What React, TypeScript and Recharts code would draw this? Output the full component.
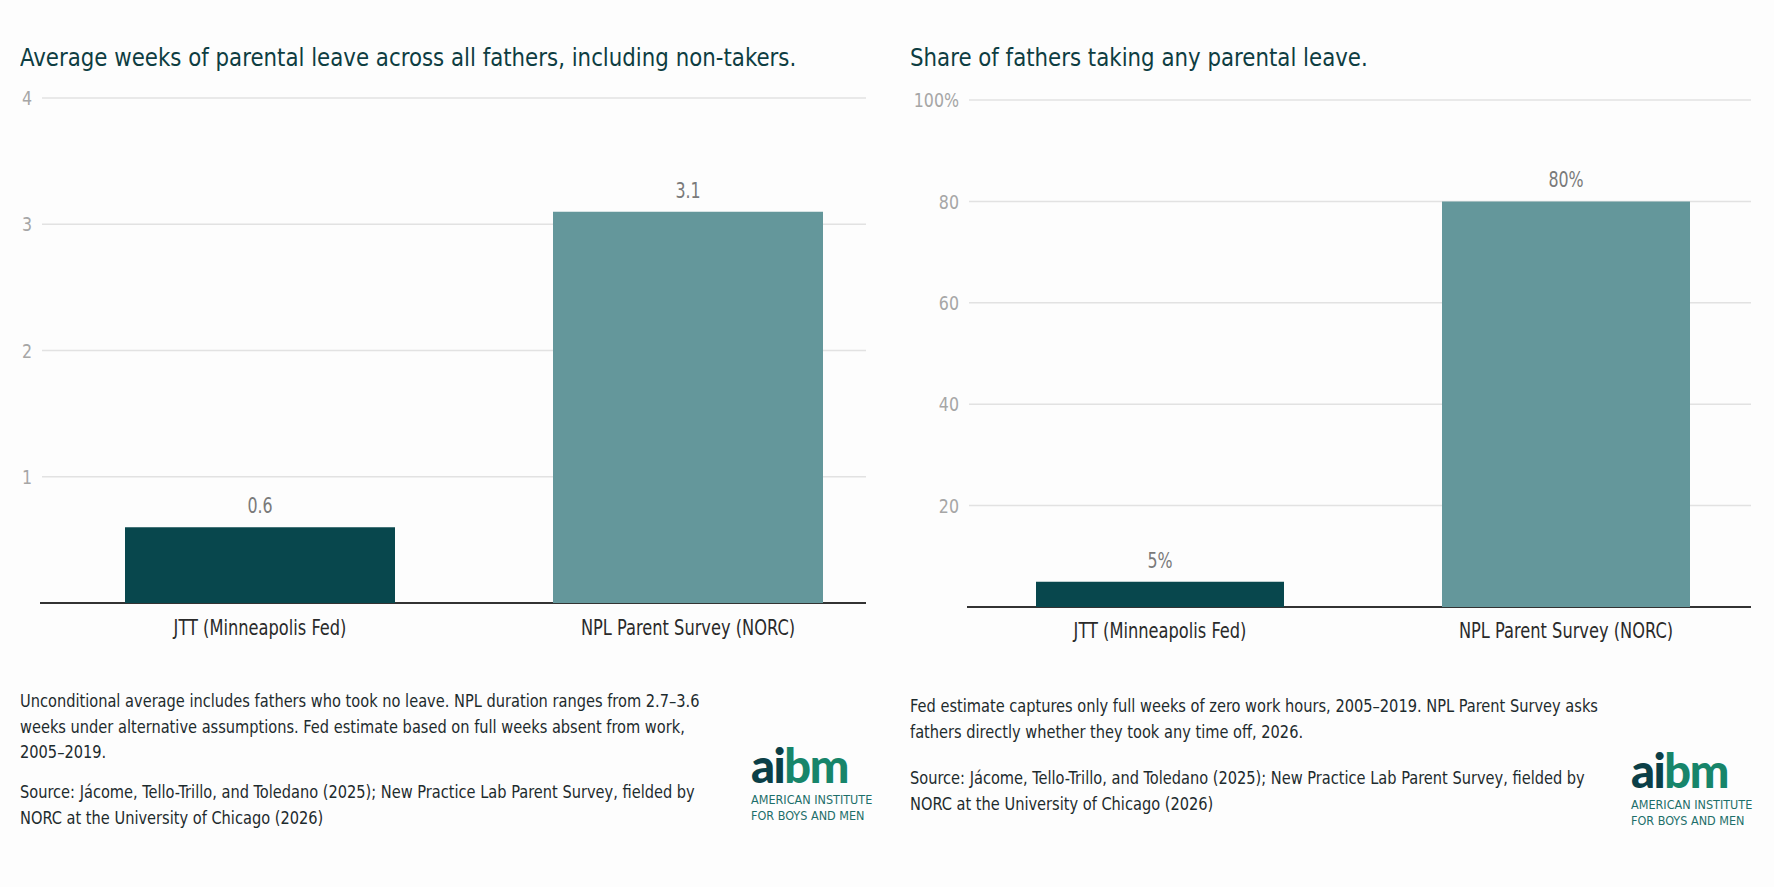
import { BarChart, Bar, XAxis, YAxis, CartesianGrid, Cell, LabelList } from 'recharts';

const categories = ['JTT (Minneapolis Fed)', 'NPL Parent Survey (NORC)'];
const weeksValues = [0.6, 3.1];
const shareValues = [5, 80];
const weeksTicks = [0, 1, 2, 3, 4];
const shareTicks = [0, 20, 40, 60, 80, 100];
const barColors = ['#08474d', '#64979b'];

const FONT = "'DejaVu Sans Condensed', 'DejaVu Sans', sans-serif";
const TITLE = '#0e3d42';
const INK = '#1d2b2d';

const weeksData = categories.map((name, i) => ({ name, value: weeksValues[i] }));
const shareData = categories.map((name, i) => ({ name, value: shareValues[i] }));

// the reference font is much narrower than anything installed, so squeeze it
const NARROW = 0.86;

function CatTick({ x, y, payload }: any) {
  return (
    <g transform={`translate(${x},${y}) scale(${NARROW},1)`}>
      <text x={0} y={0} dy="0.71em" textAnchor="middle" fill="#2a2a2a" fontSize={21} fontFamily={FONT}>{payload.value}</text>
    </g>
  );
}

const makeValueTick = (fmt: (v: number) => string) => ({ x, y, payload }: any) => {
  const label = fmt(payload.value);
  if (!label) return <g />;
  return (
    <g transform={`translate(${x},${y}) scale(0.88,1)`}>
      <text x={0} y={0} dy="0.355em" textAnchor="end" fill="#a6a6a6" fontSize={20} fontFamily={FONT}>{label}</text>
    </g>
  );
};

const makeBarLabel = (fmt: (v: number) => string) => ({ x, y, width, value }: any) => (
  <g transform={`translate(${Number(x) + Number(width) / 2},${Number(y) - 14}) scale(0.84,1)`}>
    <text x={0} y={0} textAnchor="middle" fill="#7a7a7a" fontSize={21} fontFamily={FONT}>{fmt(value)}</text>
  </g>
);

// grid lines run a bit shorter than the band range; the zero line is the dark baseline
const makeGridLine = (left: number, right: number, bottom: number) => (p: any) => {
  const base = Math.abs(p.y1 - bottom) < 1;
  return (
    <line key={p.key} x1={base ? left - 2 : left} x2={right} y1={p.y1} y2={p.y2}
      stroke={base ? '#333' : '#e2e2e2'} strokeWidth={base ? 2 : 1.5} />
  );
};

function Logo({ left, top }: { left: number; top: number }) {
  return (
    <div style={{ position: 'absolute', left, top, fontFamily: FONT }}>
      <div style={{ fontFamily: "Lato, 'Open Sans', sans-serif", fontWeight: 900, fontSize: 47, lineHeight: '42px', letterSpacing: -1.5 }}>
        <span style={{ color: '#0b3f47' }}>ai</span>
        <span style={{ color: '#17856a' }}>bm</span>
      </div>
      <div style={{ color: '#1d6f6a', fontSize: 12.5, lineHeight: '16px', marginTop: 6, whiteSpace: 'nowrap' }}>
        AMERICAN INSTITUTE<br />FOR BOYS AND MEN
      </div>
    </div>
  );
}

export default function App() {
  const noteStyle = {
    position: 'absolute' as const, fontFamily: FONT, fontSize: 18.5, lineHeight: '25.5px', color: INK,
    whiteSpace: 'nowrap' as const, transform: 'scaleX(0.877)', transformOrigin: 'left top',
  };
  const titleStyle = {
    position: 'absolute' as const, top: 42, fontFamily: FONT, fontSize: 25.5, lineHeight: '30px', color: TITLE,
    whiteSpace: 'nowrap' as const, transform: 'scaleX(0.93)', transformOrigin: 'left top',
  };

  return (
    <div style={{ position: 'absolute', left: 0, top: 0, width: 1774, height: 887, background: '#fdfdfd', overflow: 'hidden' }}>
      <div style={{ ...titleStyle, left: 20 }}>
        Average weeks of parental leave across all fathers, including non-takers.
      </div>
      <div style={{ ...titleStyle, left: 910 }}>
        Share of fathers taking any parental leave.
      </div>

      <div style={{ position: 'absolute', left: 0, top: 0 }}>
        <BarChart width={905} height={700} data={weeksData} margin={{ top: 98, right: 3, left: 0, bottom: 57 }} barSize={270}>
          <CartesianGrid vertical={false} horizontal={makeGridLine(42, 866, 603)} />
          <XAxis dataKey="name" height={40} tickLine={false} axisLine={false} tick={<CatTick />} tickMargin={11} interval={0} />
          <YAxis width={46} domain={[0, 4]} ticks={weeksTicks} tickLine={false} axisLine={false} tickSize={0} tickMargin={14}
            tick={makeValueTick((v) => (v === 0 ? '' : String(v)))} />
          <Bar dataKey="value" isAnimationActive={false}>
            {weeksData.map((_, i) => <Cell key={i} fill={barColors[i]} />)}
            <LabelList dataKey="value" content={makeBarLabel((v) => String(v))} />
          </Bar>
        </BarChart>
      </div>

      <div style={{ position: 'absolute', left: 880, top: 0 }}>
        <BarChart width={894} height={700} data={shareData} margin={{ top: 100, right: 5, left: 0, bottom: 53 }} barSize={248}>
          <CartesianGrid vertical={false} horizontal={makeGridLine(89, 871, 607)} />
          <XAxis dataKey="name" height={40} tickLine={false} axisLine={false} tick={<CatTick />} tickMargin={10} interval={0} />
          <YAxis width={77} domain={[0, 100]} ticks={shareTicks} tickLine={false} axisLine={false} tickSize={0} tickMargin={-2}
            tick={makeValueTick((v) => (v === 0 ? '' : v === 100 ? '100%' : String(v)))} />
          <Bar dataKey="value" isAnimationActive={false}>
            {shareData.map((_, i) => <Cell key={i} fill={barColors[i]} />)}
            <LabelList dataKey="value" content={makeBarLabel((v) => `${v}%`)} />
          </Bar>
        </BarChart>
      </div>

      <div style={{ ...noteStyle, left: 20, top: 688 }}>
        Unconditional average includes fathers who took no leave. NPL duration ranges from 2.7–3.6<br />
        weeks under alternative assumptions. Fed estimate based on full weeks absent from work,<br />
        2005–2019.
      </div>
      <div style={{ ...noteStyle, left: 20, top: 779 }}>
        Source: Jácome, Tello-Trillo, and Toledano (2025); New Practice Lab Parent Survey, fielded by<br />
        NORC at the University of Chicago (2026)
      </div>
      <Logo left={751} top={744} />

      <div style={{ ...noteStyle, left: 910, top: 693 }}>
        Fed estimate captures only full weeks of zero work hours, 2005–2019. NPL Parent Survey asks<br />
        fathers directly whether they took any time off, 2026.
      </div>
      <div style={{ ...noteStyle, left: 910, top: 765 }}>
        Source: Jácome, Tello-Trillo, and Toledano (2025); New Practice Lab Parent Survey, fielded by<br />
        NORC at the University of Chicago (2026)
      </div>
      <Logo left={1631} top={749} />
    </div>
  );
}
